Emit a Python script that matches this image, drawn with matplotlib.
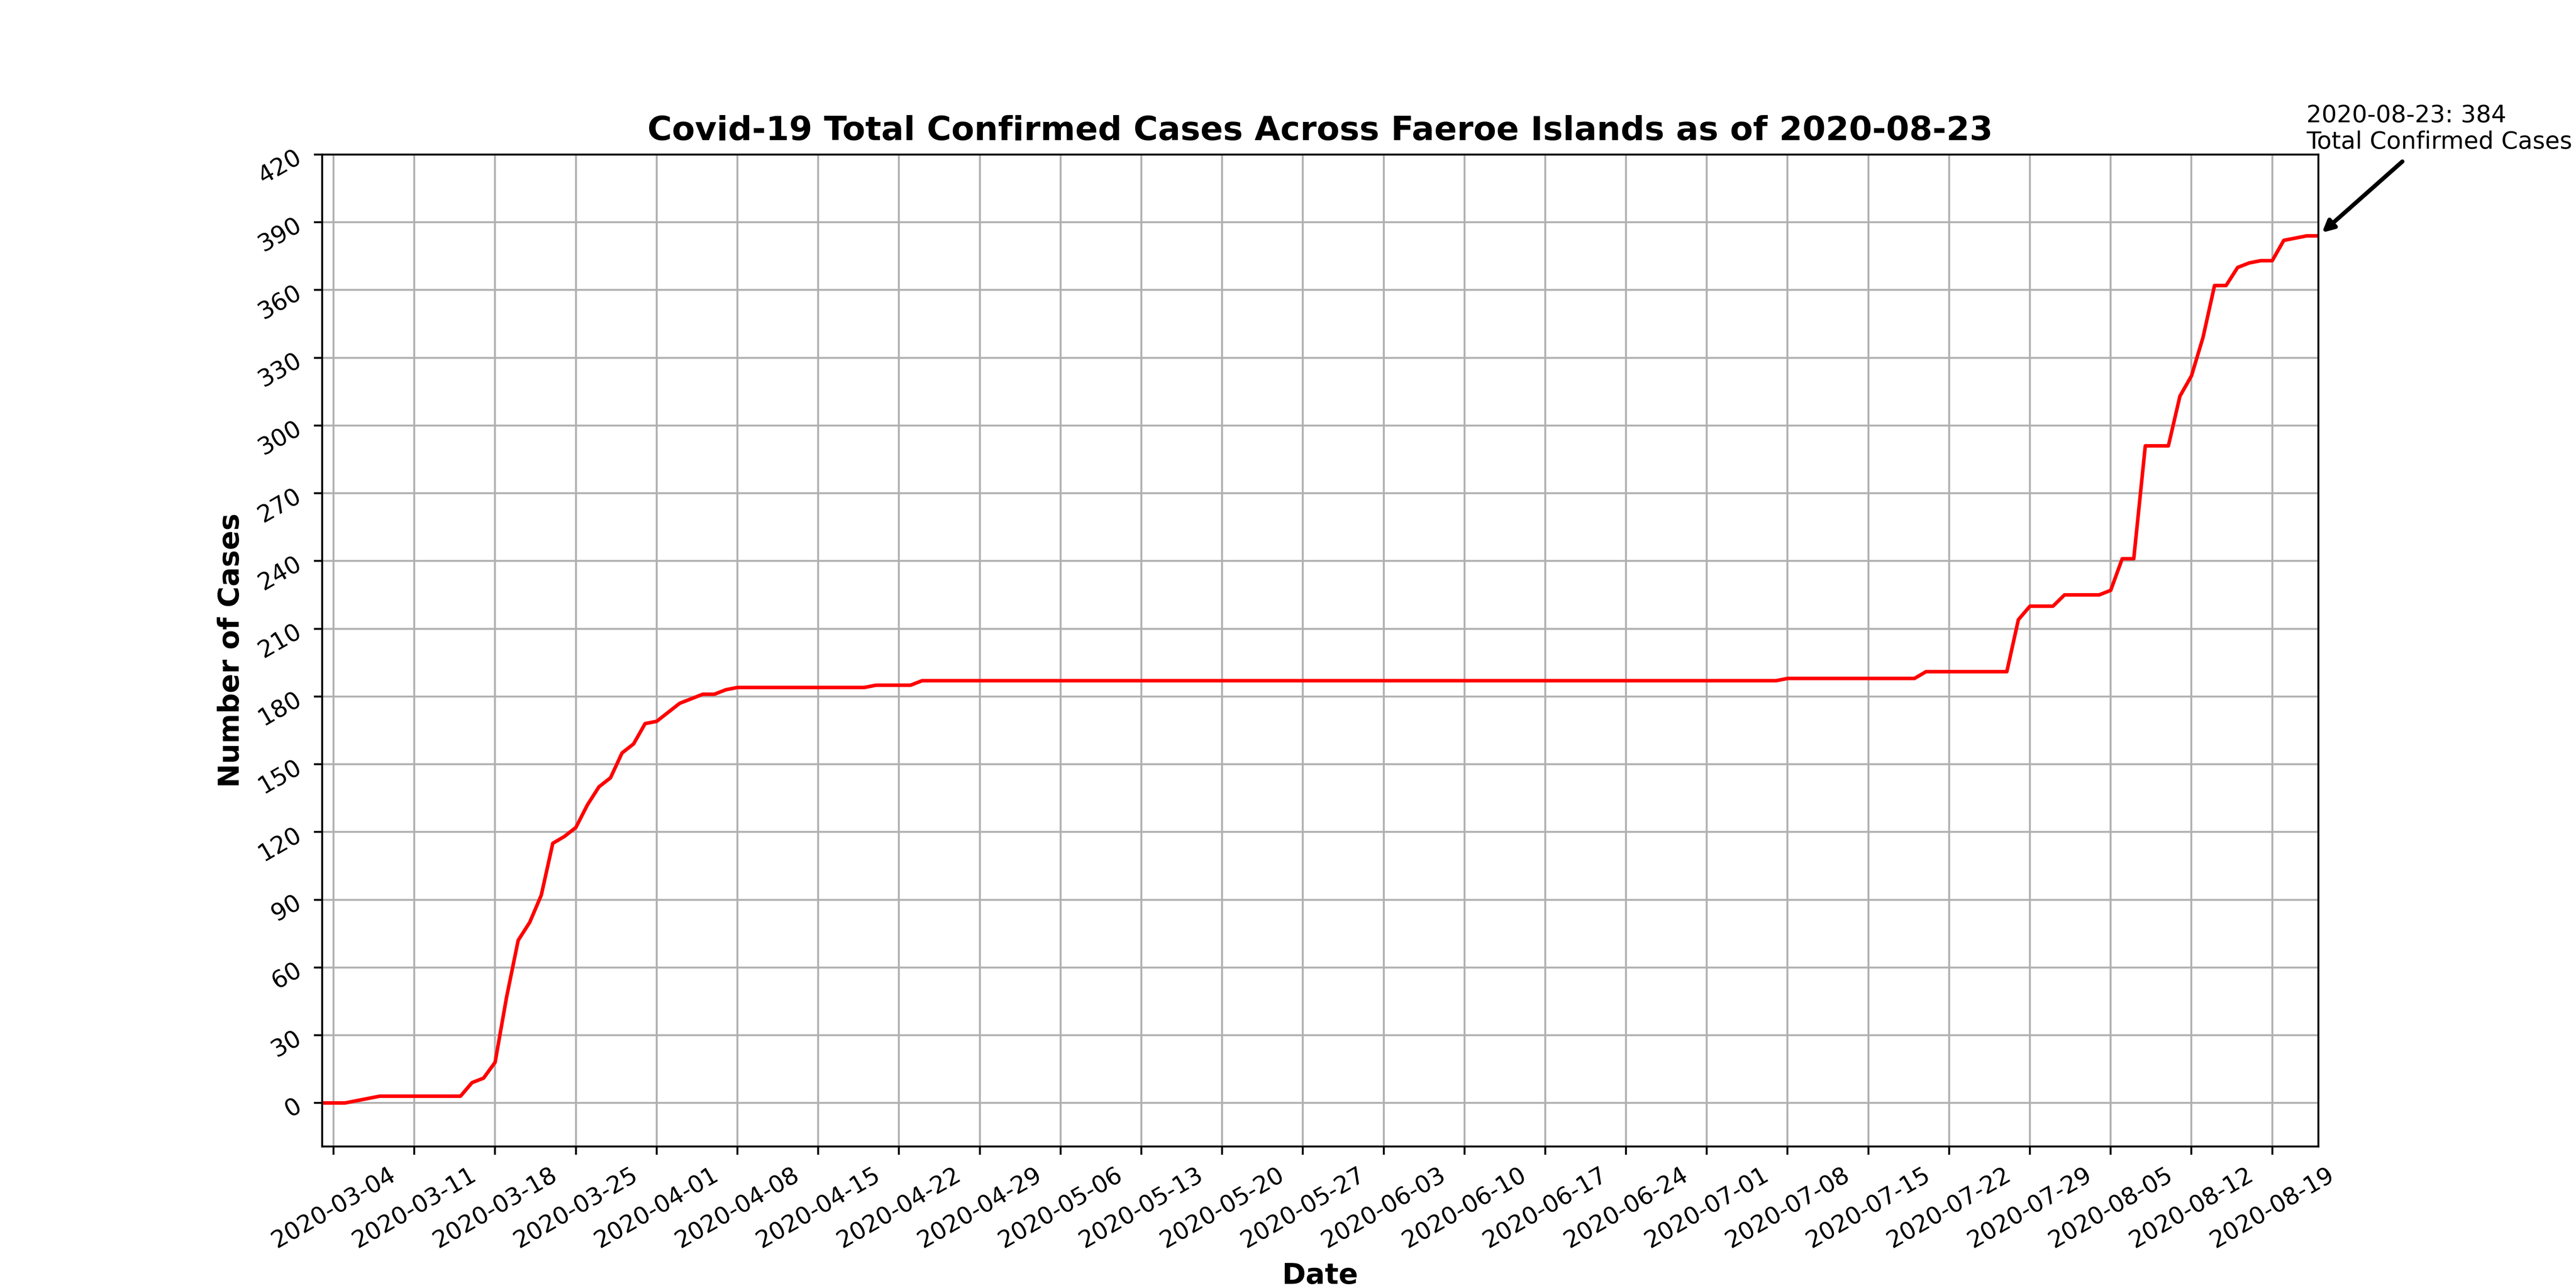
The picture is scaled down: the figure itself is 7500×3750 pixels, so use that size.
import numpy as np
import pandas as pd
import matplotlib
matplotlib.use("Agg")
import matplotlib.pyplot as plt
import matplotlib.dates as mdates

# total confirmed cases per day (2020-03-03 .. 2020-08-23)
march = [0, 0, 0, 1, 2, 3, 3, 3, 3, 3, 3, 3, 3, 9, 11, 18, 47, 72, 80, 92,
         115, 118, 122, 132, 140, 144, 155, 159, 168]
april = [169, 173, 177, 179, 181, 181, 183, 184, 184, 184, 184, 184, 184, 184,
         184, 184, 184, 184, 184, 185, 185, 185, 185, 187, 187, 187, 187, 187,
         187, 187]
may = [187, 187, 187, 187, 187, 187, 187, 187, 187, 187, 187, 187, 187, 187,
       187, 187, 187, 187, 187, 187, 187, 187, 187, 187, 187, 187, 187, 187,
       187, 187, 187]
june = [187, 187, 187, 187, 187, 187, 187, 187, 187, 187, 187, 187, 187, 187,
        187, 187, 187, 187, 187, 187, 187, 187, 187, 187, 187, 187, 187, 187,
        187, 187]
july = [187, 187, 187, 187, 187, 187, 187, 188, 188, 188, 188, 188, 188, 188,
        188, 188, 188, 188, 188, 191, 191, 191, 191, 191, 191, 191, 191, 214,
        220, 220, 220]
august = [225, 225, 225, 225, 227, 241, 241, 291, 291, 291, 313, 322, 339,
          362, 362, 370, 372, 373, 373, 382, 383, 384, 384]

cases = np.array(march + april + may + june + july + august)
dates = pd.date_range("2020-03-03", periods=len(cases), freq="D")
country = "Faeroe Islands"
last_day = dates[-1].strftime("%Y-%m-%d")

fig, ax = plt.subplots(figsize=(15, 7.5), dpi=500)
ax.plot(dates, cases, color="red")

ax.set_xlim(dates[0], dates[-1])
ax.set_xticks(dates[1::7])
ax.xaxis.set_major_formatter(mdates.DateFormatter("%Y-%m-%d"))
ax.set_yticks(np.arange(0, 421, 30))
ax.set_ylim(-19.2, 420)
plt.xticks(rotation=30)
plt.yticks(rotation=30)
ax.grid(True)

ax.set_title("Covid-19 Total Confirmed Cases Across %s as of %s" % (country, last_day),
             fontsize=14, fontweight="bold")
ax.set_xlabel("Date", fontsize=12, fontweight="bold")
ax.set_ylabel("Number of Cases", fontsize=12, fontweight="bold")

ax.annotate("%s: %d\nTotal Confirmed Cases" % (last_day, cases[-1]),
            xy=(dates[-1], cases[-1]), xytext=(-5, 36.5), textcoords="offset points",
            arrowprops=dict(arrowstyle="-|>", color="black", lw=1.75,
                            capstyle="round", joinstyle="round"))

fig.savefig("out.png")
